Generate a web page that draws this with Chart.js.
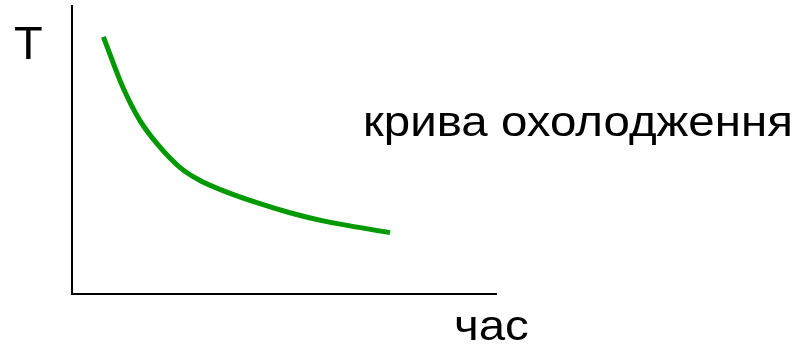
<!DOCTYPE html>
<html>
<head>
<meta charset="utf-8">
<script src="https://cdn.jsdelivr.net/npm/chart.js@4/dist/chart.umd.min.js"></script>
<style>
  html, body { margin: 0; padding: 0; background: #fff; }
  #wrap { width: 801px; height: 349px; }
</style>
</head>
<body>
<div id="wrap"><canvas id="coolingChart"></canvas></div>
<script>
// cooling curve (time 0..100, T 0..100)
const timeValues = [7.4, 12.0, 16.0, 20.0, 25.5, 30.2, 35.6, 43.6, 51.4, 59.2, 75.0];
const tempValues = [89.3, 71.8, 60.3, 52.3, 43.9, 39.4, 35.9, 31.7, 28.2, 25.4, 21.3];

const yLabel = 'T';
const xLabel = 'час';
const curveLabel = 'крива охолодження';

const points = timeValues.map((t, i) => ({ x: t, y: tempValues[i] }));

// text is a bit wider in the picture than plain Arial
function wideText(ctx, text, x, y, stretch) {
    ctx.save();
    ctx.translate(x, y);
    ctx.scale(stretch, 1);
    ctx.fillText(text, 0, 0);
    ctx.restore();
}

// plain text labels around the axes
const textLabels = {
    id: 'textLabels',
    afterDraw(chart) {
        const ctx = chart.ctx;
        const area = chart.chartArea;
        ctx.save();
        ctx.fillStyle = '#000';
        ctx.textBaseline = 'alphabetic';
        ctx.textAlign = 'left';
        ctx.font = '47px "Liberation Sans", Arial, sans-serif';
        ctx.fillText(yLabel, area.left - 58, area.top + 53);
        ctx.font = '42px "Liberation Sans", Arial, sans-serif';
        wideText(ctx, curveLabel, 363, 136, 1.13);
        wideText(ctx, xLabel, 454, 340, 1.13);
        ctx.restore();
    }
};

const ctx = document.getElementById('coolingChart').getContext('2d');

const coolingChart = new Chart(ctx, {
    type: 'line',
    data: {
        datasets: [{
            label: curveLabel,
            data: points,
            borderColor: 'rgb(0, 153, 0)',
            borderWidth: 5,
            pointRadius: 0,
            fill: false,
            cubicInterpolationMode: 'monotone',
            borderCapStyle: 'butt'
        }]
    },
    options: {
        responsive: true,
        maintainAspectRatio: false,
        animation: false,
        layout: {
            padding: { left: 64, top: 6, right: 305, bottom: 47 }
        },
        plugins: {
            legend: { display: false },
            tooltip: { enabled: false }
        },
        scales: {
            x: {
                type: 'linear',
                min: 0,
                max: 100,
                grid: { display: false },
                ticks: { display: false },
                border: { display: true, color: '#000', width: 2 }
            },
            y: {
                type: 'linear',
                min: 0,
                max: 100,
                grid: { display: false },
                ticks: { display: false },
                border: { display: true, color: '#000', width: 2 }
            }
        }
    },
    plugins: [textLabels]
});
</script>
</body>
</html>
